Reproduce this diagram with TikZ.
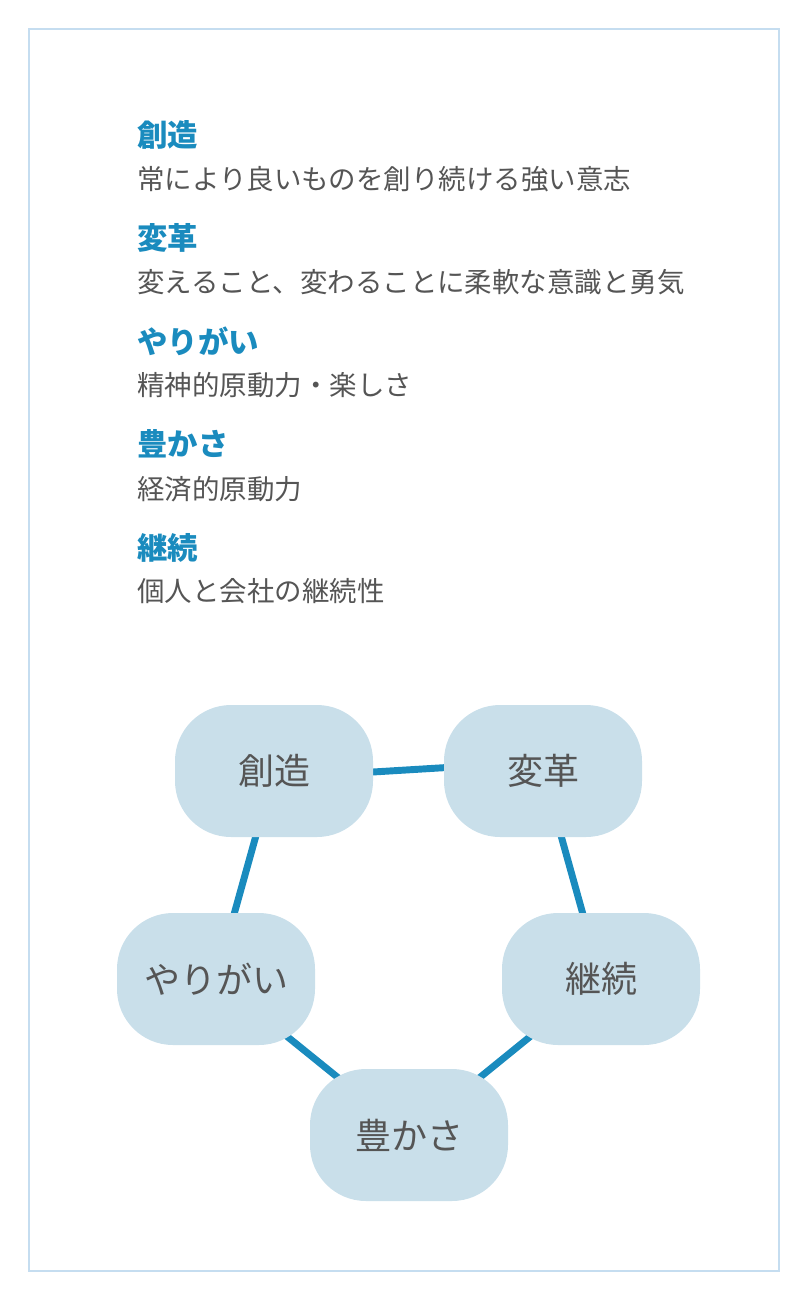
\documentclass[tikz,border=0pt]{standalone}
\usepackage{fontspec}
\setmainfont{Noto Sans CJK JP}
\usetikzlibrary{shapes.geometric}
\definecolor{framec}{HTML}{C5DDF0}
\definecolor{headc}{HTML}{1A8BBE}
\definecolor{bodyc}{HTML}{555555}
\definecolor{bubblec}{HTML}{C9DFEA}
\tikzset{%
	head/.style={anchor=west, inner sep=0pt, text=headc, font=\fontsize{22.8}{26}\selectfont\bfseries},
	body/.style={anchor=west, inner sep=0pt, text=bodyc, font=\fontsize{20.6}{24}\selectfont},
	bubble/.style={rectangle, rounded corners=42pt, fill=bubblec, minimum width=148.5pt, minimum height=99pt,%
		inner sep=0pt, text=bodyc, font=\fontsize{27}{30}\selectfont},
	link/.style={line width=5.2pt, headc}
}
\begin{document}
\begin{tikzpicture}[x=0.75pt, y=-0.75pt]
	\useasboundingbox (0,0) rectangle (808,1300);
	\draw[framec, line width=1.5pt] (29,29) rectangle (779,1271);

	\node[head] (h1) at (137,135) {創造};
	\node[body] (b1) at (137,179) {常により良いものを創り続ける強い意志};
	\node[head] (h2) at (137,238) {変革};
	\node[body] (b2) at (137,282) {変えること、変わることに柔軟な意識と勇気};
	\node[head] (h3) at (137,341) {やりがい};
	\node[body] (b3) at (137,385) {精神的原動力・楽しさ};
	\node[head] (h4) at (137,444) {豊かさ};
	\node[body] (b4) at (137,489) {経済的原動力};
	\node[head] (h5) at (137,548) {継続};
	\node[body] (b5) at (137,591) {個人と会社の継続性};

	% cycle of values
	\coordinate (c1) at (274,771);
	\coordinate (c2) at (543,771);
	\coordinate (c3) at (601,979);
	\coordinate (c4) at (409,1135);
	\coordinate (c5) at (216,979);
	\draw[link] (c1) ++(0,7) -- ([yshift=7] c2) -- (c2) -- (c3) -- (c4) -- (c5) -- (c1);
	\node[bubble] (sozo) at (c1) {創造};
	\node[bubble] (henkaku) at (c2) {変革};
	\node[bubble] (keizoku) at (c3) {継続};
	\node[bubble] (yutaka) at (c4) {豊かさ};
	\node[bubble] (yarigai) at (c5) {やりがい};
\end{tikzpicture}
\end{document}
